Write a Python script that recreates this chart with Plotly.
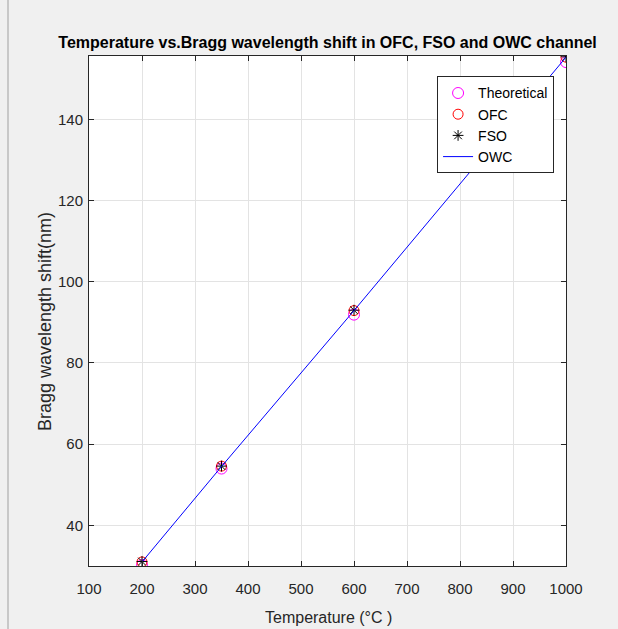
import plotly.graph_objects as go

temperature = [200, 350, 600, 1000]
theoretical = [30.2, 54.0, 91.9, 154.1]
ofc = [31.0, 54.6, 92.9, 155.3]
fso = [31.1, 54.6, 93.0, 155.4]
owc = [31.0, 54.5, 92.9, 155.3]

x_ticks = [100, 200, 300, 400, 500, 600, 700, 800, 900, 1000]
y_ticks = [40, 60, 80, 100, 120, 140]

font = "Liberation Sans, Arial"
L, R, T, B, W, H = 89, 52, 56, 63, 618, 629
PW, PH = W - L - R, H - T - B

def px(xpix):
    return (xpix - L) / PW

def py(ypix):
    return (H - B - ypix) / PH

fig = go.Figure()
fig.add_trace(go.Scatter(x=temperature, y=theoretical, mode="markers", name="Theoretical",
                         marker=dict(symbol="circle-open", size=11, color="#ff00ff", line=dict(width=1))))
fig.add_trace(go.Scatter(x=temperature, y=ofc, mode="markers", name="OFC",
                         marker=dict(symbol="circle-open", size=10, color="#ff0000", line=dict(width=1))))
fig.add_trace(go.Scatter(x=temperature, y=fso, mode="markers", name="FSO",
                         marker=dict(symbol="asterisk-open", size=9, color="#000000", line=dict(width=1))))
fig.add_trace(go.Scatter(x=temperature, y=owc, mode="lines", name="OWC",
                         line=dict(color="#0000ff", width=1)))

axis_common = dict(showline=True, linecolor="#262626", linewidth=1, mirror="ticks",
                   ticks="inside", ticklen=5, tickcolor="#262626",
                   showgrid=True, gridcolor="#e3e3e3", gridwidth=1, zeroline=False,
                   tickfont=dict(family=font, size=15, color="#262626"))

fig.update_layout(
    width=W, height=H,
    paper_bgcolor="#f0f0f0", plot_bgcolor="#ffffff",
    margin=dict(l=L, r=R, t=T, b=B),
    title=dict(text="<b>Temperature vs.Bragg wavelength shift in OFC, FSO and OWC channel</b>",
               x=0.53, xanchor="center", y=0.933, yanchor="middle",
               font=dict(family=font, size=16, color="#000000")),
    xaxis=dict(range=[100, 1000], tickvals=x_ticks, ticktext=[str(v) for v in x_ticks],
               ticklabelstandoff=9, **axis_common),
    yaxis=dict(range=[30, 155.6], tickvals=y_ticks, ticktext=[str(v) for v in y_ticks],
               ticklabelstandoff=2, **axis_common),
    legend=dict(x=0.975, xanchor="right", y=0.96, yanchor="top",
                bgcolor="#ffffff", bordercolor="#262626", borderwidth=1,
                font=dict(family=font, size=14, color="#000000"),
                itemwidth=30, tracegroupgap=0),
    showlegend=True,
    annotations=[
        dict(text="Temperature (°C )", xref="paper", yref="paper", x=px(328), y=py(617),
             xanchor="center", yanchor="middle", showarrow=False,
             font=dict(family=font, size=16, color="#262626")),
        dict(text="Bragg wavelength shift(nm)", xref="paper", yref="paper", x=px(45), y=py(322),
             xanchor="center", yanchor="middle", showarrow=False, textangle=-90,
             font=dict(family=font, size=18, color="#262626")),
    ],
)

fig.add_shape(type="line", xref="paper", yref="paper",
              x0=px(8), x1=px(8), y0=py(H), y1=py(0),
              line=dict(color="#a0a0a0", width=1))

fig.write_html("out.html", config={"displayModeBar": False},
               post_script="document.body.style.margin='0px';")
